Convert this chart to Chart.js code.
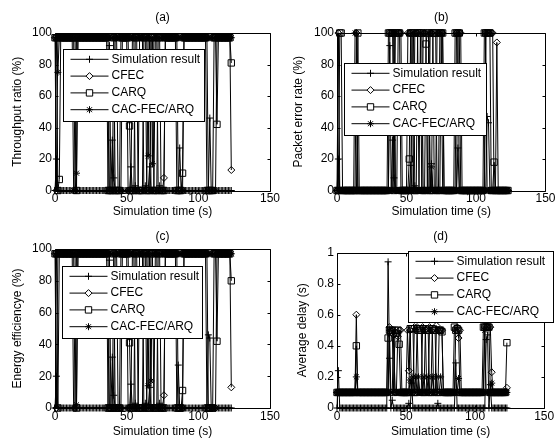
<!DOCTYPE html>
<html>
<head>
<meta charset="utf-8">
<script src="https://cdn.jsdelivr.net/npm/chart.js@4.4.1/dist/chart.umd.min.js"></script>
<style>
html, body { margin: 0; padding: 0; background: #fff; }
#wrap { position: relative; width: 556px; height: 439px; overflow: hidden; }
#wrap canvas { position: absolute; left: 0; top: 0; }
</style>
</head>
<body>
<div id="wrap">
<canvas id="ca" width="556" height="439"></canvas>
<canvas id="cb" width="556" height="439"></canvas>
<canvas id="cc" width="556" height="439"></canvas>
<canvas id="cd" width="556" height="439"></canvas>
</div>
<script>
// simulation time (s), one sample per second
const time = [
  0,1,2,3,4,5,6,7,8,9, 10,11,12,13,14,15,16,17,18,19,
  20,21,22,23,24,25,26,27,28,29, 30,31,32,33,34,35,36,37,38,39,
  40,41,42,43,44,45,46,47,48,49, 50,51,52,53,54,55,56,57,58,59,
  60,61,62,63,64,65,66,67,68,69, 70,71,72,73,74,75,76,77,78,79,
  80,81,82,83,84,85,86,87,88,89, 90,91,92,93,94,95,96,97,98,99,
  100,101,102,103,104,105,106,107,108,109, 110,111,112,113,114,115,116,117,118,119,
  120,121,122,123
];
const legendLabels = ['Simulation result', 'CFEC', 'CARQ', 'CAC-FEC/ARQ'];

// (a) throughput ratio (%)
const simA = [
  0,20,0,0,0,0,0,0,0,0, 0,0,0,0,0,0,0,0,0,0,
  0,0,0,0,0,0,0,0,0,0, 0,0,0,0,0,0,0,0,92,0,
  32,8,0,0,0,0,0,0,0,0, 0,0,0,15,0,0,3,0,0,0,
  0,0,0,3,0,0,15,0,0,0, 0,0,0,3,0,0,0,0,0,0,
  0,0,0,0,0,0,0,27,0,0, 0,0,0,0,0,0,0,0,0,0,
  0,0,0,0,0,0,0,0,46,0, 0,0,0,0,0,0,0,0,0,0,
  0,0,0,0
];
const cfecA = [
  97,0,97,97,97,97,97,97,97,97, 97,97,97,97,0,97,97,97,97,97,
  97,97,97,97,97,97,97,97,97,97, 97,97,97,97,97,97,97,97,0,0,
  0,0,97,97,0,0,0,97,97,97, 97,0,0,0,97,97,0,0,0,97,
  97,97,0,0,0,97,97,0,0,0, 97,97,0,0,0,0,8,97,97,97,
  97,97,97,97,97,97,0,0,0,0, 97,97,97,97,97,97,97,97,97,97,
  97,97,97,97,97,97,97,0,0,0, 0,0,0,97,97,97,97,97,97,97,
  97,97,97,13
];
const carqA = [
  97,97,0,7,97,97,97,97,97,97, 97,97,97,97,97,0,97,97,97,97,
  97,97,97,97,97,97,97,97,97,97, 97,97,97,97,97,97,97,0,0,0,
  0,97,0,0,0,0,97,97,97,97, 97,97,41,0,0,0,97,97,0,0,
  0,0,97,97,0,0,0,97,97,0, 0,0,97,97,0,0,0,97,97,97,
  97,97,97,97,97,0,0,0,0,11, 97,97,97,97,97,97,97,97,97,97,
  97,97,97,97,97,97,0,0,0,0, 0,97,97,42,97,97,97,97,97,97,
  97,97,97,81
];
const cacA = [
  97,97,75,97,97,97,97,97,97,97, 97,97,97,0,0,11,97,97,97,97,
  97,97,97,97,97,97,97,97,97,97, 97,97,97,97,97,97,97,97,97,97,
  97,97,97,97,97,97,97,97,97,97, 97,97,97,97,97,97,97,97,97,97,
  97,97,97,97,97,22,97,97,17,97, 97,97,97,97,97,97,97,97,97,97,
  97,97,97,97,97,97,97,97,97,97, 97,97,97,97,97,97,97,97,97,97,
  97,97,97,97,97,97,97,97,97,97, 97,97,97,97,97,97,97,97,97,97,
  97,97,97,97
];

// (b) packet error rate (%)
const simB = [
  0,20,0,0,0,0,0,0,0,0, 0,0,0,0,0,0,0,0,0,0,
  0,0,0,0,0,0,0,0,0,0, 0,0,0,0,0,0,0,0,92,0,
  32,8,0,0,0,0,0,0,0,0, 0,0,0,16,0,0,3,0,0,0,
  0,0,0,0,0,0,0,0,17,0, 0,0,0,2,0,0,0,0,0,0,
  0,0,0,0,0,0,0,27,0,0, 0,0,0,0,0,0,0,0,0,0,
  0,0,0,0,0,0,0,0,47,43, 0,0,0,0,0,0,0,0,0,0,
  0,0,0,0
];
const cfecB = [
  0,100,0,0,0,0,0,0,0,0, 0,0,0,0,100,0,0,0,0,0,
  0,0,0,0,0,0,0,0,0,0, 0,0,0,0,0,0,0,0,100,100,
  100,100,0,0,100,100,100,0,0,0, 0,100,100,100,0,0,100,100,100,0,
  0,0,100,100,100,0,0,100,100,100, 0,0,100,100,100,100,100,0,0,0,
  0,0,0,0,0,0,100,100,100,100, 0,0,0,0,0,0,0,0,0,0,
  0,0,0,0,0,0,0,100,100,100, 100,100,100,0,0,94,0,0,0,0,
  0,0,0,0
];
const carqB = [
  0,0,100,100,0,0,0,0,0,0, 0,0,0,0,0,100,0,0,0,0,
  0,0,0,0,0,0,0,0,0,0, 0,0,0,0,0,0,0,100,100,100,
  100,0,100,100,100,100,0,0,0,0, 0,0,20,100,100,100,0,0,100,100,
  100,100,0,0,93,100,100,0,0,100, 100,100,0,0,100,100,100,0,0,0,
  0,0,0,0,0,100,100,100,100,0, 0,0,0,0,0,0,0,0,0,0,
  0,0,0,0,0,0,100,100,100,100, 100,0,0,18,0,0,0,0,0,0,
  0,0,0,0
];
const cacB = [
  0,0,0,0,0,0,0,0,0,0, 0,0,0,100,100,0,0,0,0,0,
  0,0,0,0,0,0,0,0,0,0, 0,0,0,0,0,0,0,0,0,0,
  0,100,0,0,0,0,0,0,0,0, 0,0,0,0,100,0,0,0,0,0,
  100,0,0,0,0,0,100,0,15,0, 0,0,0,0,0,100,0,0,0,0,
  0,0,0,0,0,0,0,100,0,0, 0,0,0,0,0,0,0,0,0,0,
  0,0,0,0,0,0,0,100,0,0, 0,0,0,0,0,0,0,0,0,0,
  0,0,0,0
];

// (c) energy efficiency (%)
const simC = [
  0,20,0,0,0,0,0,0,0,0, 0,0,0,0,0,0,0,0,0,0,
  0,0,0,0,0,0,0,0,0,0, 0,0,0,0,0,0,0,0,93,0,
  32,8,0,0,0,0,0,0,0,0, 0,0,0,15,0,0,3,0,0,0,
  0,0,0,3,0,0,13,0,0,0, 0,0,0,3,0,0,0,0,0,0,
  0,0,0,0,0,0,27,0,0,0, 0,0,0,0,0,0,0,0,0,0,
  0,0,0,0,0,0,0,46,44,0, 0,0,0,0,0,0,0,0,0,0,
  0,0,0,0
];
const cfecC = [
  97,0,97,97,97,97,97,97,97,97, 97,97,97,97,0,97,97,97,97,97,
  97,97,97,97,97,97,97,97,97,97, 97,97,97,97,97,97,97,97,0,0,
  0,0,97,97,0,0,0,97,97,97, 97,0,0,0,97,97,0,0,0,97,
  97,97,0,0,0,97,97,0,0,0, 97,97,0,0,0,0,8,97,97,97,
  97,97,97,97,97,97,0,0,0,0, 97,97,97,97,97,97,97,97,97,97,
  97,97,97,97,97,97,97,0,0,0, 0,0,0,97,97,97,97,97,97,97,
  97,97,97,13
];
const carqC = [
  97,97,0,97,97,97,97,97,97,97, 97,97,97,97,97,0,97,97,97,97,
  97,97,97,97,97,97,97,97,97,97, 97,97,97,97,97,97,97,0,0,0,
  0,97,0,0,0,0,97,97,97,97, 97,97,41,0,0,0,97,97,0,0,
  0,0,97,97,0,0,0,97,97,0, 0,0,97,97,0,0,0,97,97,97,
  97,97,97,97,97,0,0,0,0,11, 97,97,97,97,97,97,97,97,97,97,
  97,97,97,97,97,97,0,0,0,0, 0,97,97,42,97,97,97,97,97,97,
  97,97,97,80
];
const cacC = [
  97,97,97,97,97,97,97,97,97,97, 97,97,97,0,0,2,97,97,97,97,
  97,97,97,97,97,97,97,97,97,97, 97,97,97,97,97,97,97,97,97,97,
  97,97,97,97,97,97,97,97,97,97, 97,97,97,97,97,97,97,97,97,97,
  97,97,97,97,97,14,97,17,97,97, 97,97,97,97,97,97,97,97,97,97,
  97,97,97,97,97,97,97,97,97,97, 97,97,97,97,97,97,97,97,97,97,
  97,97,97,97,97,97,97,97,97,97, 97,97,97,97,97,97,97,97,97,97,
  97,97,97,97
];

// (d) average delay (s)
const simD = [
  0,0.24,0,0,0,0,0,0,0,0, 0,0,0,0,0,0,0,0,0,0,
  0,0,0,0,0,0,0,0,0,0, 0,0,0,0,0,0,0,0.94,0.32,0,
  0.05,0,0,0,0,0,0,0,0,0, 0,0,0.03,0,0.16,0,0,0,0,0,
  0,0,0,0,0,0,0,0,0,0, 0,0,0,0.03,0,0,0,0,0,0,
  0,0,0,0,0,0,0.29,0,0,0, 0,0,0,0,0,0,0,0,0,0,
  0,0,0,0,0,0,0,0,0.44,0.47, 0,0.15,0,0,0,0,0,0,0,0,
  0,0,0,0
];
const cfecD = [
  0.1,0.1,0.1,0.1,0.1,0.1,0.1,0.1,0.1,0.1, 0.1,0.1,0.1,0.1,0.6,0.1,0.1,0.1,0.1,0.1,
  0.1,0.1,0.1,0.1,0.1,0.1,0.1,0.1,0.1,0.1, 0.1,0.1,0.1,0.1,0.1,0.1,0.1,0.1,0.52,0.5,
  0.5,0.47,0.1,0.1,0.46,0.5,0.5,0.1,0.1,0.1, 0.1,0.5,0.24,0.5,0.1,0.1,0.52,0.5,0.52,0.1,
  0.1,0.1,0.52,0.5,0.5,0.1,0.1,0.52,0.5,0.5, 0.1,0.1,0.53,0.5,0.5,0.5,0.5,0.1,0.1,0.1,
  0.1,0.1,0.1,0.1,0.1,0.1,0.5,0.52,0.45,0.5, 0.1,0.1,0.1,0.1,0.1,0.1,0.1,0.1,0.1,0.1,
  0.1,0.1,0.1,0.1,0.1,0.1,0.1,0.52,0.52,0.52, 0.52,0.52,0.23,0.1,0.1,0.1,0.1,0.1,0.1,0.1,
  0.1,0.1,0.1,0.13
];
const carqD = [
  0.1,0.1,0.1,0.1,0.1,0.1,0.1,0.1,0.1,0.1, 0.1,0.1,0.1,0.1,0.4,0.1,0.1,0.1,0.1,0.1,
  0.1,0.1,0.1,0.1,0.1,0.1,0.1,0.1,0.1,0.1, 0.1,0.1,0.1,0.1,0.1,0.1,0.1,0.45,0.5,0.5,
  0.5,0.1,0.5,0.48,0.5,0.41,0.1,0.1,0.1,0.1, 0.1,0.1,0.1,0.51,0.51,0.51,0.1,0.1,0.51,0.5,
  0.51,0.5,0.1,0.1,0.51,0.5,0.5,0.1,0.1,0.51, 0.5,0.5,0.1,0.1,0.5,0.5,0.49,0.1,0.1,0.1,
  0.1,0.1,0.1,0.1,0.1,0.52,0.5,0.51,0.5,0.1, 0.1,0.1,0.1,0.1,0.1,0.1,0.1,0.1,0.1,0.1,
  0.1,0.1,0.1,0.1,0.1,0.1,0.52,0.52,0.52,0.52, 0.52,0.1,0.1,0.1,0.1,0.1,0.1,0.1,0.1,0.1,
  0.1,0.1,0.1,0.42
];
const cacD = [
  0.1,0.1,0.1,0.1,0.1,0.1,0.1,0.1,0.1,0.1, 0.1,0.1,0.1,0.1,0.2,0.1,0.1,0.1,0.1,0.1,
  0.1,0.1,0.1,0.1,0.1,0.1,0.1,0.1,0.1,0.1, 0.1,0.1,0.1,0.1,0.1,0.1,0.1,0.1,0.5,0.1,
  0.1,0.48,0.1,0.1,0.1,0.1,0.1,0.1,0.1,0.1, 0.1,0.1,0.1,0.18,0.1,0.2,0.1,0.2,0.1,0.2,
  0.1,0.1,0.1,0.2,0.1,0.1,0.2,0.1,0.1,0.2, 0.1,0.1,0.2,0.1,0.1,0.2,0.1,0.1,0.1,0.1,
  0.1,0.1,0.1,0.1,0.1,0.1,0.1,0.1,0.19,0.1, 0.1,0.1,0.1,0.1,0.1,0.1,0.1,0.1,0.1,0.1,
  0.1,0.1,0.1,0.1,0.1,0.1,0.1,0.5,0.1,0.1, 0.1,0.1,0.16,0.1,0.1,0.1,0.1,0.1,0.1,0.1,
  0.1,0.1,0.1,0.1
];

const FONT = { family: '"Liberation Sans", Arial, Helvetica, sans-serif', size: 12, weight: 'normal' };
const FONT_CSS = '12px "Liberation Sans", Arial, Helvetica, sans-serif';

// marker per series, like the matlab plot: + diamond square star
const markers = [
  { style: 'cross', radius: 3.5 },
  { style: 'rectRot', radius: 3.5 },
  { style: 'rect', radius: 4.5 },
  { style: 'star', radius: 3.5 }
];

function series(i, values) {
  return {
    label: legendLabels[i],
    data: time.map((t, k) => ({ x: t, y: values[k] })),
    borderColor: '#000',
    borderWidth: 1,
    pointStyle: markers[i].style,
    pointRadius: markers[i].radius,
    pointBorderColor: '#000',
    pointBackgroundColor: 'rgba(0,0,0,0)',
    pointBorderWidth: 1,
    tension: 0,
    clip: false
  };
}

function drawMarker(ctx, m, x, y) {
  if (Chart.helpers && Chart.helpers.drawPoint) {
    Chart.helpers.drawPoint(ctx, { pointStyle: m.style, radius: m.radius, borderWidth: 1, rotation: 0 }, x, y);
  }
}

// box with inward ticks on all sides + matlab style legend
const boxPlugin = {
  id: 'matlabBox',
  afterDatasetsDraw(chart, args, opts) {
    const { ctx, chartArea: a, scales: { x, y } } = chart;
    const L = Math.round(a.left) + 0.5, R = Math.round(a.right) + 0.5;
    const T = Math.round(a.top) + 0.5, B = Math.round(a.bottom) + 0.5;
    const tk = 3;
    ctx.save();
    ctx.strokeStyle = '#000';
    ctx.lineWidth = 1;
    ctx.beginPath();
    ctx.rect(L, T, R - L, B - T);
    x.ticks.forEach(t => {
      const px = Math.round(x.getPixelForValue(t.value)) + 0.5;
      ctx.moveTo(px, B); ctx.lineTo(px, B - tk);
      ctx.moveTo(px, T); ctx.lineTo(px, T + tk);
    });
    y.ticks.forEach(t => {
      const py = Math.round(y.getPixelForValue(t.value)) + 0.5;
      ctx.moveTo(L, py); ctx.lineTo(L + tk, py);
      ctx.moveTo(R, py); ctx.lineTo(R - tk, py);
    });
    ctx.stroke();

    const lg = opts.box;
    const bx = Math.round(a.left + lg.dx) + 0.5, by = Math.round(a.top + lg.dy) + 0.5;
    ctx.fillStyle = '#fff';
    ctx.fillRect(bx, by, lg.w, lg.h);
    ctx.strokeRect(bx, by, lg.w, lg.h);
    ctx.font = FONT_CSS;
    ctx.textBaseline = 'middle';
    chart.data.datasets.forEach((ds, i) => {
      const ry = by + 9.8 + i * 16.8;
      ctx.beginPath();
      ctx.moveTo(bx + 7, ry); ctx.lineTo(bx + 45, ry);
      ctx.stroke();
      ctx.fillStyle = '#fff';
      drawMarker(ctx, markers[i], bx + 26, ry);
      ctx.fillStyle = '#000';
      ctx.fillText(ds.label, bx + 48, ry);
    });
    ctx.restore();
  }
};

function makeChart(id, c) {
  new Chart(document.getElementById(id), {
    type: 'line',
    data: { datasets: c.values.map((v, i) => series(i, v)) },
    options: {
      responsive: false,
      animation: false,
      events: [],
      layout: { autoPadding: false, padding: c.pad },
      plugins: {
        legend: { display: false },
        tooltip: { enabled: false },
        title: { display: true, text: c.title, fullSize: false, color: '#000', font: FONT, padding: c.titlePad },
        matlabBox: { box: c.legend }
      },
      scales: {
        x: {
          type: 'linear', min: 0, max: 150,
          ticks: { stepSize: 50, color: '#000', font: FONT, padding: c.xTickPad, maxRotation: 0, autoSkip: false },
          grid: { display: false, drawTicks: false, tickLength: 0 },
          border: { display: false },
          title: { display: true, text: 'Simulation time (s)', color: '#000', font: FONT, padding: { top: 0, bottom: 0 } },
          afterFit: s => { s.height = c.xH; }
        },
        y: {
          min: 0, max: c.yMax,
          ticks: {
            stepSize: c.yStep, color: '#000', font: FONT, padding: 3,
            callback: v => String(Math.round(v * 100) / 100)
          },
          grid: { display: false, drawTicks: false, tickLength: 0 },
          border: { display: false },
          title: { display: true, text: c.yTitle, color: '#000', font: FONT, padding: { top: c.yTitlePad, bottom: 0 } },
          afterFit: s => { s.width = c.yW; }
        }
      }
    },
    plugins: [boxPlugin]
  });
}

makeChart('ca', {
  title: '(a)', yTitle: 'Throughput ratio (%)', yMax: 100, yStep: 20,
  values: [simA, cfecA, carqA, cacA],
  pad: { left: 0, right: 286, top: 0, bottom: 220 },
  titlePad: { top: 10.3, bottom: 8.3 }, yW: 55, yTitlePad: 10.8, xH: 28.5, xTickPad: 0.5,
  legend: { dx: 8, dy: 16, w: 141, h: 72 }
});
makeChart('cb', {
  title: '(b)', yTitle: 'Packet error rate (%)', yMax: 100, yStep: 20,
  values: [simB, cfecB, carqB, cacB],
  pad: { left: 278, right: 3, top: 0, bottom: 220 },
  titlePad: { top: 10.3, bottom: 8.3 }, yW: 59, yTitlePad: 13.8, xH: 28.5, xTickPad: 0.5,
  legend: { dx: 7, dy: 30, w: 142, h: 72 }
});
makeChart('cc', {
  title: '(c)', yTitle: 'Energy efficiencye (%)', yMax: 100, yStep: 20,
  values: [simC, cfecC, carqC, cacC],
  pad: { left: 0, right: 286, top: 219, bottom: 0 },
  titlePad: { top: 10.8, bottom: 4.8 }, yW: 55, yTitlePad: 10.8, xH: 31, xTickPad: 1.8,
  legend: { dx: 7, dy: 17, w: 140, h: 72 }
});
makeChart('cd', {
  title: '(d)', yTitle: 'Average delay (s)', yMax: 1, yStep: 0.2,
  values: [simD, cfecD, carqD, cacD],
  pad: { left: 278, right: 3, top: 219, bottom: 0 },
  titlePad: { top: 10.8, bottom: 8.3 }, yW: 59, yTitlePad: 17.8, xH: 31, xTickPad: 1.8,
  legend: { dx: 71, dy: -2, w: 145, h: 71 }
});
</script>
</body>
</html>
